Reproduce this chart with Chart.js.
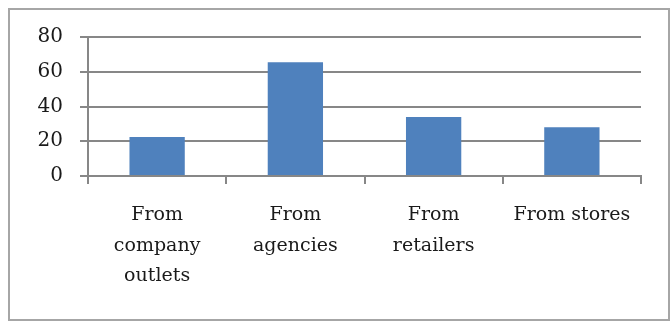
<!DOCTYPE html>
<html>
<head>
<meta charset="utf-8">
<script src="https://cdn.jsdelivr.net/npm/chart.js@4.4.1/dist/chart.umd.min.js"></script>
<style>
  html, body { margin: 0; padding: 0; background: #fff; }
  #wrap { width: 670px; height: 322px; position: relative; }
</style>
</head>
<body>
<div id="wrap"><canvas id="chart"></canvas></div>
<script>
// ── Data ──────────────────────────────────────────────
const categories = [
  ['From', 'company', 'outlets'],
  ['From', 'agencies'],
  ['From', 'retailers'],
  'From stores',
];
const values = [22.5, 65.5, 34, 28];
const yTicks = [0, 20, 40, 60, 80];

const AXIS_GREY = '#878787';
const TEXT = '#1a1a1a';
const FONT = "'DejaVu Serif', serif";

// grey frame round the whole chart
const framePlugin = {
  id: 'frame',
  beforeDraw(chart) {
    const ctx = chart.ctx;
    ctx.save();
    ctx.strokeStyle = '#a6a6a6';
    ctx.lineWidth = 2;
    ctx.strokeRect(9, 9, 660, 311);
    ctx.restore();
  },
};

new Chart(document.getElementById('chart'), {
  type: 'bar',
  data: {
    labels: categories,
    datasets: [{
      data: values,
      backgroundColor: '#4f81bd',
      borderWidth: 0,
      barPercentage: 0.8,
      categoryPercentage: 0.5,
    }],
  },
  options: {
    responsive: true,
    maintainAspectRatio: false,
    animation: false,
    layout: { padding: { left: 0, top: 37, right: 29, bottom: 0 } },
    plugins: {
      legend: { display: false },
      tooltip: { enabled: false },
    },
    scales: {
      x: {
        offset: true,
        afterFit: (scale) => {
          scale.height = 146;
          // keep the axis the same width as the plot area
          scale.paddingLeft = 0;
          scale.paddingRight = 0;
        },
        grid: {
          offset: true,
          drawOnChartArea: false,
          color: AXIS_GREY,
          lineWidth: 2,
          tickLength: 8,
        },
        border: { color: AXIS_GREY, width: 2 },
        ticks: {
          color: TEXT,
          padding: 16,
          maxRotation: 0,
          autoSkip: false,
          font: { family: FONT, size: 19, lineHeight: 1.6 },
        },
      },
      y: {
        min: 0,
        max: 80,
        afterFit: (scale) => { scale.width = 88; },
        afterBuildTicks: (scale) => {
          scale.ticks = yTicks.map((v) => ({ value: v }));
        },
        grid: {
          color: AXIS_GREY,
          lineWidth: 2,
          tickLength: 8,
        },
        border: { color: AXIS_GREY, width: 2 },
        ticks: {
          color: TEXT,
          padding: 17,
          font: { family: FONT, size: 20 },
        },
      },
    },
  },
  plugins: [framePlugin],
});
</script>
</body>
</html>
